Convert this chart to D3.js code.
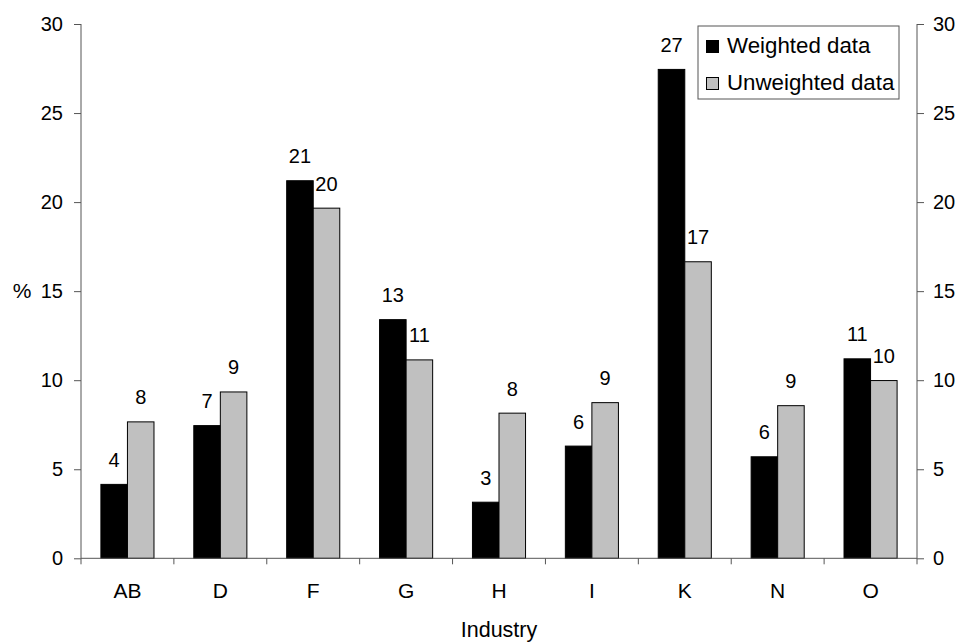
<!DOCTYPE html>
<html>
<head>
<meta charset="utf-8">
<script src="https://cdn.jsdelivr.net/npm/d3@7/dist/d3.min.js"></script>
<style>
  html, body { margin: 0; padding: 0; background: #fff; }
  svg { display: block; font-family: "Liberation Sans", Arial, sans-serif; }
</style>
</head>
<body>
<svg id="chart" width="962" height="643"></svg>
<script>
// Share of each industry (%), weighted vs unweighted
const industries = ["AB", "D", "F", "G", "H", "I", "K", "N", "O"];
const weighted   = [4.15, 7.45, 21.2, 13.4, 3.15, 6.3, 27.45, 5.7, 11.2];
const unweighted = [7.66, 9.34, 19.66, 11.14, 8.15, 8.74, 16.65, 8.57, 9.98];
const seriesNames = ["Weighted data", "Unweighted data"];
const yTicks = [0, 5, 10, 15, 20, 25, 30];

const svg = d3.select("#chart");
const plotLeft = 81, plotRight = 917, plotTop = 24, plotBottom = 558.3;
const axisColor = "#555";
const fills = ["#000000", "#c0c0c0"];

const x = d3.scaleBand().domain(industries).range([plotLeft, plotRight]).paddingInner(0).paddingOuter(0);
const inner = d3.scaleBand().domain([0, 1]).range([0, x.bandwidth()]).paddingInner(0).paddingOuter(0.75);
const y = d3.scaleLinear().domain([0, 30]).range([plotBottom, plotTop]);

const rows = industries.map((k, i) => ({ key: k, vals: [weighted[i], unweighted[i]] }));

// Bars
const groups = svg.append("g").selectAll("g").data(rows).join("g")
  .attr("transform", d => `translate(${x(d.key)},0)`);

groups.selectAll("rect").data(d => d.vals.map((v, s) => ({ v, s }))).join("rect")
  .attr("x", d => inner(d.s))
  .attr("width", inner.bandwidth())
  .attr("y", d => y(d.v))
  .attr("height", d => y(0) - y(d.v))
  .attr("fill", d => fills[d.s])
  .attr("stroke", "#000")
  .attr("stroke-width", 1);

// Value labels above the bars
const fmt = d3.format(".0f");
groups.selectAll("text").data(d => d.vals.map((v, s) => ({ v, s }))).join("text")
  .attr("x", d => inner(d.s) + inner.bandwidth() / 2)
  .attr("y", d => y(d.v) - 17.5)
  .attr("text-anchor", "middle")
  .attr("font-size", 20)
  .attr("fill", "#000")
  .text(d => fmt(d.v));

// Left and right value axes
const gl = svg.append("g").attr("transform", `translate(${plotLeft},0)`)
  .call(d3.axisLeft(y).tickValues(yTicks).tickSize(7).tickPadding(11));
const gr = svg.append("g").attr("transform", `translate(${plotRight},0)`)
  .call(d3.axisRight(y).tickValues(yTicks).tickSize(7).tickPadding(9));

[gl, gr].forEach(g => {
  g.select(".domain").attr("stroke", axisColor).attr("d", `M0,${plotTop}V${plotBottom}`);
  g.selectAll(".tick line").attr("stroke", axisColor);
  g.selectAll(".tick text").attr("font-size", 20).attr("fill", "#000")
    .attr("font-family", "Liberation Sans, Arial, sans-serif");
});

// Category axis with ticks at band boundaries
const gx = svg.append("g").attr("transform", `translate(0,${plotBottom})`);
gx.append("line").attr("x1", plotLeft).attr("x2", plotRight).attr("y1", 0).attr("y2", 0)
  .attr("stroke", axisColor);
const boundaries = industries.map(k => x(k)).concat([plotRight]);
gx.selectAll("line.tick").data(boundaries).join("line").attr("class", "tick")
  .attr("x1", d => d).attr("x2", d => d).attr("y1", 0).attr("y2", 6)
  .attr("stroke", axisColor);
gx.selectAll("text").data(industries).join("text")
  .attr("x", d => x(d) + x.bandwidth() / 2)
  .attr("y", 40)
  .attr("text-anchor", "middle")
  .attr("font-size", 21)
  .text(d => d);

// Axis titles
svg.append("text").attr("x", (plotLeft + plotRight) / 2).attr("y", 637)
  .attr("text-anchor", "middle").attr("font-size", 21.5).text("Industry");
svg.append("text").attr("x", 22).attr("y", 298)
  .attr("text-anchor", "middle").attr("font-size", 21).text("%");

// Legend
const lg = svg.append("g").attr("transform", "translate(698,26)");
lg.append("rect").attr("width", 201).attr("height", 73)
  .attr("fill", "#fff").attr("stroke", axisColor);
seriesNames.forEach((name, i) => {
  const row = lg.append("g").attr("transform", `translate(0,${i * 37})`);
  row.append("rect").attr("x", 8.5).attr("y", 14.5).attr("width", 12).attr("height", 12)
    .attr("fill", fills[i]).attr("stroke", "#000");
  row.append("text").attr("x", 29).attr("y", 26.5).attr("font-size", 22.3).text(name);
});
</script>
</body>
</html>
